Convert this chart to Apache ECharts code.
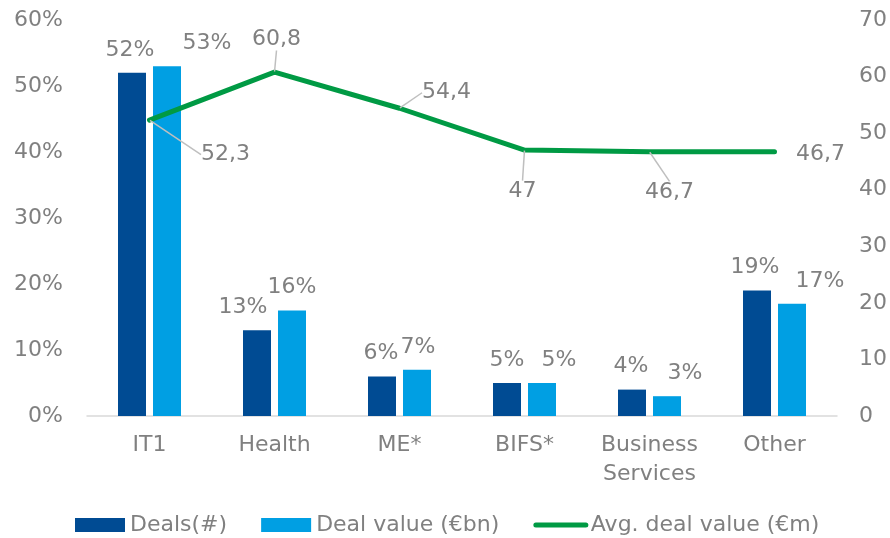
<!DOCTYPE html>
<html>
<head>
<meta charset="utf-8">
<script src="https://cdn.jsdelivr.net/npm/echarts@6/dist/echarts.min.js"></script>
<style>
  html, body { margin: 0; padding: 0; background: #fff; }
  #chart { width: 890px; height: 538px; }
</style>
</head>
<body>
<div id="chart"></div>
<script>
// 数据
const categories = ['IT1', 'Health', 'ME*', 'BIFS*', 'Business\nServices', 'Other']
const deals = [0.52, 0.13, 0.06, 0.05, 0.04, 0.19]
const dealValue = [0.53, 0.16, 0.07, 0.05, 0.03, 0.17]
const avgDealValue = [52.3, 60.8, 54.4, 47, 46.7, 46.7]

// 标签偏移 (px)，模仿原图中避让后的位置
const dealsLabelOffsets = [[-2, 0], [-14, 0], [-1, 0], [0, 0], [-1, 0], [-2, 0]]
const valueLabelOffsets = [[40, 0], [0, 0], [1, 0], [17, 0], [18, 0], [28, 0]]
const lineLabelOffsets = [[76, 56], [2, -11], [47, 6], [-2, 63], [20, 62], [46, 24]]
const lineLabelLeader = [true, true, true, true, true, false]

const grey = '#808080'
const font = 'DejaVu Sans'

const chart = echarts.init(document.getElementById('chart'))

const pct = v => Math.round(v * 100) + '%'

const barLabel = {
  show: true,
  position: 'top',
  distance: 12,
  color: grey,
  fontSize: 22,
  formatter: p => pct(p.value)
}

const option = {
  animation: false,
  textStyle: { fontFamily: font },
  grid: { left: 87, right: 52, top: 20, bottom: 122 },
  legend: {
    top: 509,
    left: 70,
    itemWidth: 50,
    itemHeight: 14,
    itemGap: 34,
    textStyle: { color: grey, fontSize: 22, fontFamily: font },
    data: [
      { name: 'Deals(#)', icon: 'rect' },
      { name: 'Deal value (€bn)', icon: 'rect' },
      { name: 'Avg. deal value (€m)', lineStyle: { width: 5, cap: 'round' } }
    ]
  },
  xAxis: {
    type: 'category',
    data: categories,
    axisLine: { lineStyle: { color: '#d9d9d9', width: 1.5 } },
    axisTick: { show: false },
    axisLabel: { color: grey, fontSize: 22, margin: 15, lineHeight: 29, interval: 0 }
  },
  yAxis: [
    {
      type: 'value',
      min: 0,
      max: 0.6,
      interval: 0.1,
      splitLine: { show: false },
      axisLabel: { color: grey, fontSize: 22, margin: 24, formatter: pct }
    },
    {
      type: 'value',
      min: 0,
      max: 70,
      interval: 10,
      splitLine: { show: false },
      axisLabel: { color: grey, fontSize: 22, margin: 22 }
    }
  ],
  series: [
    {
      name: 'Deals(#)',
      type: 'bar',
      data: deals.map((v, i) => ({
        value: v,
        label: { offset: dealsLabelOffsets[i] }
      })),
      barWidth: 28,
      barGap: '25%',
      itemStyle: { color: '#004b93' },
      label: barLabel
    },
    {
      name: 'Deal value (€bn)',
      type: 'bar',
      data: dealValue.map((v, i) => ({
        value: v,
        label: { offset: valueLabelOffsets[i] }
      })),
      barWidth: 28,
      itemStyle: { color: '#009fe3' },
      label: barLabel
    },
    {
      name: 'Avg. deal value (€m)',
      type: 'line',
      yAxisIndex: 1,
      data: avgDealValue.map((v, i) => ({
        value: v,
        labelLine: { show: lineLabelLeader[i] }
      })),
      symbol: 'circle',
      symbolSize: 1,
      lineStyle: { color: '#009a44', width: 5, cap: 'round' },
      itemStyle: { color: 'rgba(0,0,0,0)' },
      label: {
        show: true,
        position: 'top',
        distance: 10,
        color: grey,
        fontSize: 22,
        formatter: p => String(p.value).replace('.', ',')
      },
      labelLine: { show: true, lineStyle: { color: '#bfbfbf', width: 1.5 } },
      labelLayout: params => {
        const o = lineLabelOffsets[params.dataIndex]
        return { dx: o[0], dy: o[1] }
      }
    }
  ]
}

chart.setOption(option)
</script>
</body>
</html>
